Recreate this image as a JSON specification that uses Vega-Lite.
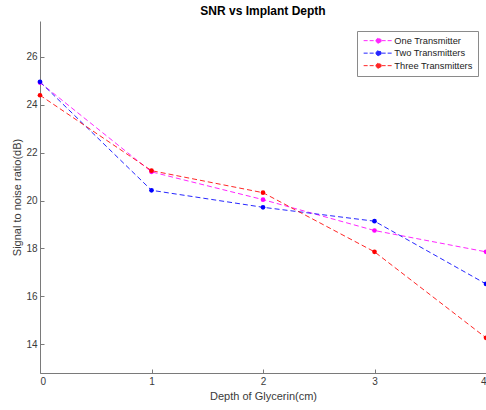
{
  "$schema": "https://vega.github.io/schema/vega-lite/v6.json",
  "autosize": {"type": "none"},
  "padding": {"left": 40, "top": 21, "right": 0, "bottom": 37},
  "width": 446,
  "height": 352,
  "background": "white",
  "title": {"text": "SNR vs Implant Depth", "fontSize": 12, "fontWeight": "bold", "font": "Liberation Sans", "color": "#000000", "offset": 3, "anchor": "middle"},
  "config": {
    "view": {"stroke": null},
    "font": "Liberation Sans",
    "axis": {"grid": false, "domainColor": "#7a7a7a", "tickColor": "#7a7a7a", "labelColor": "#3a3a3a", "titleColor": "#3a3a3a", "labelFontSize": 10, "titleFontSize": 11, "titleFontWeight": "normal", "labelFont": "Liberation Sans", "titleFont": "Liberation Sans", "tickSize": -4, "domainWidth": 1, "tickWidth": 1}
  },
  "data": {"values": [
    {"depth": 0, "snr": 24.93, "series": "One Transmitter"},
    {"depth": 1, "snr": 21.2, "series": "One Transmitter"},
    {"depth": 2, "snr": 20.04, "series": "One Transmitter"},
    {"depth": 3, "snr": 18.75, "series": "One Transmitter"},
    {"depth": 4, "snr": 17.86, "series": "One Transmitter"},
    {"depth": 0, "snr": 24.96, "series": "Two Transmitters"},
    {"depth": 1, "snr": 20.43, "series": "Two Transmitters"},
    {"depth": 2, "snr": 19.72, "series": "Two Transmitters"},
    {"depth": 3, "snr": 19.14, "series": "Two Transmitters"},
    {"depth": 4, "snr": 16.52, "series": "Two Transmitters"},
    {"depth": 0, "snr": 24.4, "series": "Three Transmitters"},
    {"depth": 1, "snr": 21.25, "series": "Three Transmitters"},
    {"depth": 2, "snr": 20.33, "series": "Three Transmitters"},
    {"depth": 3, "snr": 17.86, "series": "Three Transmitters"},
    {"depth": 4, "snr": 14.27, "series": "Three Transmitters"}
  ]},
  "encoding": {
    "x": {"field": "depth", "type": "quantitative", "scale": {"domain": [0, 4], "nice": false, "zero": false}, "axis": {"values": [0, 1, 2, 3, 4], "format": "d", "title": "Depth of Glycerin(cm)", "labelPadding": 7, "titlePadding": 4}},
    "y": {"field": "snr", "type": "quantitative", "scale": {"domain": [12.8, 27.5], "nice": false, "zero": false}, "axis": {"values": [14, 16, 18, 20, 22, 24, 26], "format": "d", "title": "Signal to noise ratio(dB)", "labelPadding": 7, "titlePadding": 3}},
    "color": {"field": "series", "type": "nominal", "sort": ["One Transmitter", "Two Transmitters", "Three Transmitters"], "scale": {"domain": ["One Transmitter", "Two Transmitters", "Three Transmitters"], "range": ["#ff00ff", "#0000ff", "#ff0000"]},
      "legend": {"title": null, "orient": "none", "legendX": 317, "legendY": 10, "strokeColor": "#8a8a8a", "fillColor": "white", "padding": 5, "labelFontSize": 9.3, "labelColor": "#222222", "labelFont": "Liberation Sans", "symbolType": "M-1,0H9M3.17,0A0.83,0.83,0,1,0,4.83,0A0.83,0.83,0,1,0,3.17,0Z", "symbolSize": 36, "symbolStrokeWidth": 1, "symbolDash": [4, 2], "labelOffset": 23, "rowPadding": 2.5,
        "encode": {"symbols": {"update": {"fill": {"scale": "color", "field": "value"}, "stroke": {"scale": "color", "field": "value"}, "fillOpacity": {"value": 1}}}}}}
  },
  "layer": [
    {"mark": {"type": "line", "strokeDash": [5, 3], "strokeWidth": 1, "opacity": 0.85}},
    {"mark": {"type": "point", "filled": true, "size": 22, "opacity": 1}}
  ]
}
